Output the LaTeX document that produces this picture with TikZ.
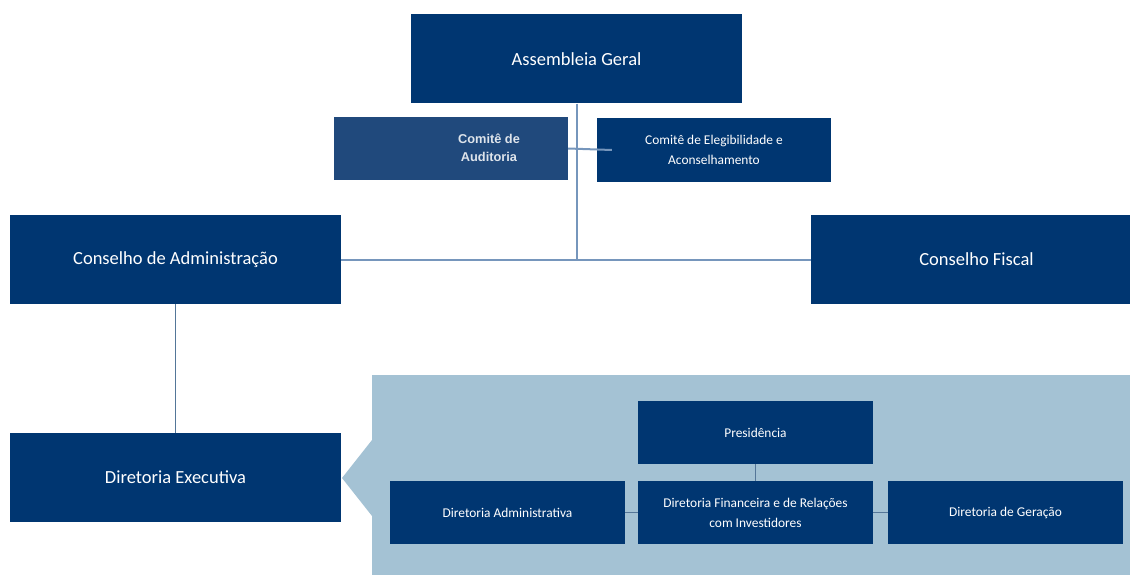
\documentclass[tikz,border=0pt]{standalone}
\usepackage{fontspec}
\setmainfont{Carlito}
\newfontfamily\auditfont{Liberation Sans}
\definecolor{navy}{RGB}{0,54,113}
\definecolor{navylight}{RGB}{32,73,124}
\definecolor{panelblue}{RGB}{164,194,212}
\definecolor{linkblue}{RGB}{118,150,188}
\definecolor{linkgrey}{RGB}{84,118,152}
\tikzset{
  bigbox/.style={fill=navy, text=white, inner sep=0pt,
    minimum width=331pt, minimum height=89pt,
    font=\fontsize{18.5}{22}\selectfont},
  smallbox/.style={fill=navy, text=white, inner sep=0pt, align=center,
    minimum width=235pt, minimum height=63pt,
    font=\fontsize{13.4}{20}\selectfont},
  mainlink/.style={draw=linkblue, line width=2pt},
  sublink/.style={draw=linkgrey, line width=1.2pt}
}

\begin{document}
\begin{tikzpicture}[x=1pt,y=-1pt]
    \useasboundingbox (0,0) rectangle (1130,575);
    \fill[panelblue] (372,375) -- (1130,375) -- (1130,575) -- (372,575)
        -- (372,516) -- (342,478) -- (372,440) -- cycle;

    \node[bigbox] (assembleia) at (576.5,59) {Assembleia Geral};
    \node[bigbox] (conselhoadm) at (175.5,259.5) {Conselho de Administração};
    \node[bigbox, minimum width=319pt] (conselhofis) at (970.5,259.5) {\hspace*{12pt}Conselho Fiscal};
    \node[bigbox] (diretoriaexec) at (175.5,477.5) {Diretoria Executiva};

    \node[smallbox, fill=navylight, minimum width=234pt] (auditoria) at (451,148.5) {};
    \node[text=white!85!navylight, align=center, inner sep=0pt,
      font=\auditfont\bfseries\fontsize{12.8}{18}\selectfont] (auditoriatxt) at (489,148) {Comitê de\\Auditoria};
    \node[smallbox, minimum width=234pt, minimum height=64pt] (elegibilidade) at (714,150) {Comitê de Elegibilidade e\\Aconselhamento};

    \node[smallbox] (presidencia) at (755.5,432.5) {Presidência};
    \node[smallbox] (diradm) at (507.5,512.5) {Diretoria Administrativa};
    \node[smallbox] (dirfin) at (755.5,512.5) {Diretoria Financeira e de Relações\\com Investidores};
    \node[smallbox] (dirger) at (1005.5,512.5) {Diretoria de Geração};

    \coordinate (juncao) at (assembleia.south |- conselhoadm.east);
    \draw[mainlink] (assembleia.south) -- (juncao);
    \draw[mainlink] (conselhoadm.east) -- (conselhofis.west);
    \draw[mainlink] (auditoria.east) -- ([xshift=15pt]elegibilidade.west);
    \draw[sublink] (conselhoadm.south) -- (diretoriaexec.north);
    \draw[sublink] (presidencia.south) -- (dirfin.north);
    \draw[sublink] (diradm.east) -- (dirfin.west);
    \draw[sublink] (dirfin.east) -- (dirger.west);
\end{tikzpicture}
\end{document}
